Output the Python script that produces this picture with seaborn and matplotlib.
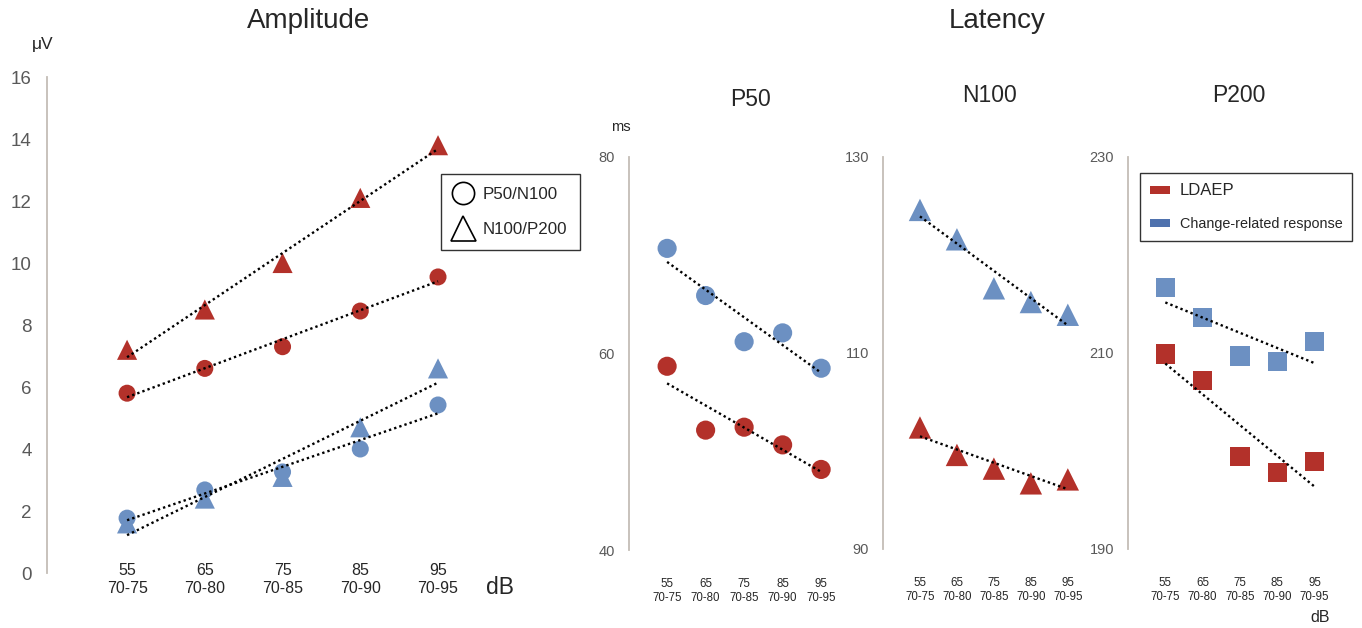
import numpy as np
import seaborn as sns
import matplotlib
matplotlib.use("Agg")
import matplotlib.pyplot as plt
from matplotlib.lines import Line2D
from matplotlib.patches import Patch

sns.set_style("white")
plt.rcParams['font.family'] = ['Liberation Sans', 'DejaVu Sans']

# stimulus levels (dB) - LDAEP level / change-related pair
levels = ["55\n70-75", "65\n70-80", "75\n70-85", "85\n70-90", "95\n70-95"]
xpos = np.array([0, 1, 2, 3, 4])

# amplitude (uV)
amp_ldaep_p50n100 = [5.8, 6.6, 7.3, 8.45, 9.55]
amp_ldaep_n100p200 = [7.2, 8.5, 10.0, 12.1, 13.8]
amp_crr_p50n100 = [1.77, 2.68, 3.26, 4.0, 5.42]
amp_crr_n100p200 = [1.6, 2.4, 3.1, 4.7, 6.6]

# latency (ms)
lat_p50_ldaep = [58.7, 52.2, 52.5, 50.7, 48.2]
lat_p50_crr = [70.7, 65.9, 61.2, 62.1, 58.5]
lat_n100_ldaep = [102.4, 99.6, 98.2, 96.7, 97.1]
lat_n100_crr = [124.6, 121.6, 116.6, 115.2, 113.9]
lat_p200_ldaep = [209.9, 207.2, 199.4, 197.8, 198.9]
lat_p200_crr = [216.7, 213.6, 209.7, 209.1, 211.2]

red = "#B3312A"
blue = "#6C90C2"
W, H = 1362, 628


def rect(l, t, r, b):
    return [l / W, 1 - b / H, (r - l) / W, (b - t) / H]


def series(ax, vals, color, marker, size):
    sns.scatterplot(x=xpos, y=vals, marker=marker, s=size, color=color,
                    edgecolor="none", linewidth=0, ax=ax, zorder=2)
    sns.regplot(x=xpos, y=np.array(vals), scatter=False, ci=None, ax=ax,
                line_kws=dict(color="black", lw=1.7, ls=(0, (1, 1.3)), zorder=3))


def style(ax, ylim, yticks, xlim, yfs, ypad, xfs, xpad):
    ax.set_xlim(*xlim)
    ax.set_ylim(*ylim)
    ax.set_yticks(yticks)
    ax.set_xticks(xpos, levels)
    for s in ["top", "right", "bottom"]:
        ax.spines[s].set_visible(False)
    ax.spines["left"].set_color("#C4BDB6")
    ax.spines["left"].set_linewidth(1.3)
    ax.tick_params(axis="y", length=0, pad=ypad, labelsize=yfs, labelcolor="#595959")
    ax.tick_params(axis="x", length=0, pad=xpad, labelsize=xfs, labelcolor="#262626")
    ax.set_xlabel("")
    ax.set_ylabel("")
    ax.grid(False)


fig = plt.figure(figsize=(W / 100, H / 100), dpi=100)

# Amplitude panel
ax = fig.add_axes(rect(47, 77, 480, 573))
series(ax, amp_ldaep_n100p200, red, "^", 210)
series(ax, amp_ldaep_p50n100, red, "o", 150)
series(ax, amp_crr_n100p200, blue, "^", 210)
series(ax, amp_crr_p50n100, blue, "o", 150)
style(ax, (0, 16), range(0, 17, 2), (-1.03, 4.54), 13.5, 11, 11.5, -7)

# Latency panels
ax1 = fig.add_axes(rect(629, 157, 845, 550))
series(ax1, lat_p50_crr, blue, "o", 190)
series(ax1, lat_p50_ldaep, red, "o", 190)
style(ax1, (40, 80), [40, 60, 80], (-0.99, 4.62), 10.5, 10, 8.3, 20)

ax2 = fig.add_axes(rect(883, 157, 1090, 549))
series(ax2, lat_n100_crr, blue, "^", 260)
series(ax2, lat_n100_ldaep, red, "^", 260)
style(ax2, (90, 130), [90, 110, 130], (-1.0, 4.6), 10.5, 10, 8.3, 20)

ax3 = fig.add_axes(rect(1128, 157, 1337, 549))
series(ax3, lat_p200_crr, blue, "s", 190)
series(ax3, lat_p200_ldaep, red, "s", 190)
style(ax3, (190, 230), [190, 210, 230], (-1.0, 4.6), 10.5, 10, 8.3, 20)


def ftext(x, y, s, size, **kw):
    fig.text(x / W, 1 - y / H, s, size=size, ha="center", va="center", **kw)


ftext(309, 21, "Amplitude", 20)
ftext(997, 21, "Latency", 20)
ftext(751, 100, "P50", 16.5)
ftext(989, 95, "N100", 16.5)
ftext(1239, 95, "P200", 16.5)
ftext(43, 45, "μV", 12.5)
ftext(621, 127, "ms", 10.5)
ftext(500, 588, "dB", 16.5)
ftext(1320, 618, "dB", 11.5)

# legends
shape_handles = [
    Line2D([], [], ls="none", marker="o", ms=16, mfc="none", mec="black", mew=1.2),
    Line2D([], [], ls="none", marker="^", ms=18, mfc="none", mec="black", mew=1.2),
]
leg = fig.legend(shape_handles, ["P50/N100", "N100/P200"], loc="upper left",
                 bbox_to_anchor=(441 / W, 1 - 174 / H), fontsize=12.2, frameon=True,
                 fancybox=False, edgecolor="black", handletextpad=0.6,
                 labelspacing=1.2, borderpad=0.75, handlelength=1.1, borderaxespad=0)
leg.get_frame().set_linewidth(1.0)

resp_handles = [Patch(facecolor=red, edgecolor="none"),
                Patch(facecolor="#4F72AE", edgecolor="none")]
leg2 = fig.legend(resp_handles, ["LDAEP", "Change-related response"], loc="upper left",
                  bbox_to_anchor=(1140 / W, 1 - 173 / H), fontsize=10.4, frameon=True,
                  fancybox=False, edgecolor="black", handletextpad=0.68,
                  labelspacing=1.3, borderpad=0.7, handlelength=1.36, handleheight=0.48,
                  borderaxespad=0)
leg2.get_frame().set_linewidth(1.0)
leg2.get_texts()[0].set_fontsize(12)

fig.savefig("out.png", dpi=100)
